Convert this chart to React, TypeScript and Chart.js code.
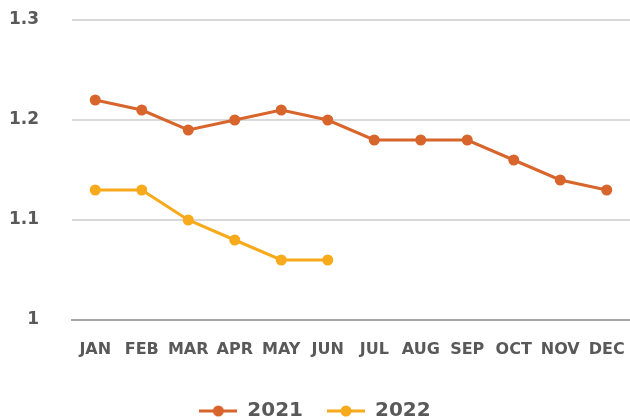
import React, { useEffect, useRef } from "react";
import { Chart, registerables } from "chart.js";

Chart.register(...registerables);

const months = ["JAN", "FEB", "MAR", "APR", "MAY", "JUN", "JUL", "AUG", "SEP", "OCT", "NOV", "DEC"];
const values2021 = [1.22, 1.21, 1.19, 1.2, 1.21, 1.2, 1.18, 1.18, 1.18, 1.16, 1.14, 1.13];
const values2022 = [1.13, 1.13, 1.1, 1.08, 1.06, 1.06];
const yTicks = [1, 1.1, 1.2, 1.3];

const C2021 = "#D8652C";
const C2022 = "#F6AA1C";
const FONT = "'DejaVu Sans', sans-serif";

function legendIcon(color: string) {
  const c = document.createElement("canvas");
  c.width = 38;
  c.height = 14;
  const ctx = c.getContext("2d")!;
  ctx.strokeStyle = color;
  ctx.lineWidth = 3;
  ctx.beginPath();
  ctx.moveTo(0, 7);
  ctx.lineTo(38, 7);
  ctx.stroke();
  ctx.fillStyle = color;
  ctx.beginPath();
  ctx.arc(19, 7, 5.5, 0, Math.PI * 2);
  ctx.fill();
  return c;
}

const legendHeightPlugin = {
  id: "legendHeight",
  afterInit(chart: any) {
    const lg = chart.legend;
    if (!lg) return;
    const orig = lg.fit.bind(lg);
    lg.fit = () => {
      orig();
      lg.height = 43;
    };
  },
};

export default function App() {
  const ref = useRef<HTMLCanvasElement>(null);
  useEffect(() => {
    const icons = [legendIcon(C2021), legendIcon(C2022)];
    const chart = new Chart(ref.current!, {
      type: "line",
      data: {
        labels: months,
        datasets: [
          {
            label: "2021",
            data: values2021,
            borderColor: C2021,
            backgroundColor: C2021,
            borderWidth: 3,
            pointRadius: 5.5,
            pointBackgroundColor: C2021,
            pointBorderWidth: 0,
          },
          {
            label: "2022",
            data: values2022,
            borderColor: C2022,
            backgroundColor: C2022,
            borderWidth: 3,
            pointRadius: 5.5,
            pointBackgroundColor: C2022,
            pointBorderWidth: 0,
          },
        ],
      },
      plugins: [legendHeightPlugin],
      options: {
        responsive: false,
        animation: false,
        layout: { padding: 0, autoPadding: false },
        plugins: {
          tooltip: { enabled: false },
          legend: {
            position: "bottom",
            labels: {
              usePointStyle: true,
              pointStyleWidth: 38,
              color: "#595959",
              font: { family: FONT, size: 20, weight: "bold" },
              padding: 24,
              generateLabels: (ch: any) =>
                ch.data.datasets.map((d: any, i: number) => ({
                  text: d.label,
                  pointStyle: icons[i],
                  fillStyle: d.borderColor,
                  strokeStyle: d.borderColor,
                  lineWidth: 0,
                  fontColor: "#595959",
                  datasetIndex: i,
                  hidden: false,
                })),
            },
          },
        },
        scales: {
          x: {
            offset: true,
            grid: { display: false, drawTicks: false },
            border: { display: true, color: "#A6A6A6", width: 2 },
            ticks: {
              color: "#595959",
              font: { family: FONT, size: 16, weight: "bold" },
              padding: 20,
              maxRotation: 0,
              autoSkip: false,
            },
            afterFit: (axis: any) => {
              axis.paddingLeft = 0;
              axis.paddingRight = 0;
              axis.height = 57;
            },
          },
          y: {
            min: 1,
            max: 1.3,
            afterBuildTicks: (axis: any) => {
              axis.ticks = yTicks.map((v) => ({ value: v }));
            },
            grid: { color: "#D9D9D9", lineWidth: 2, drawTicks: false },
            border: { display: false },
            ticks: {
              color: "#595959",
              font: { family: FONT, size: 17, weight: "bold" },
              padding: 33,
              callback: (v: any) => String(Math.round(Number(v) * 10) / 10),
            },
            afterFit: (axis: any) => {
              axis.paddingTop = 20;
              axis.paddingBottom = 0;
              axis.width = 72;
            },
          },
        },
      },
    });
    return () => chart.destroy();
  }, []);
  return (
    <div style={{ position: "fixed", left: 0, top: 0, width: 630, height: 420 }}>
      <canvas ref={ref} width={630} height={420} />
    </div>
  );
}
